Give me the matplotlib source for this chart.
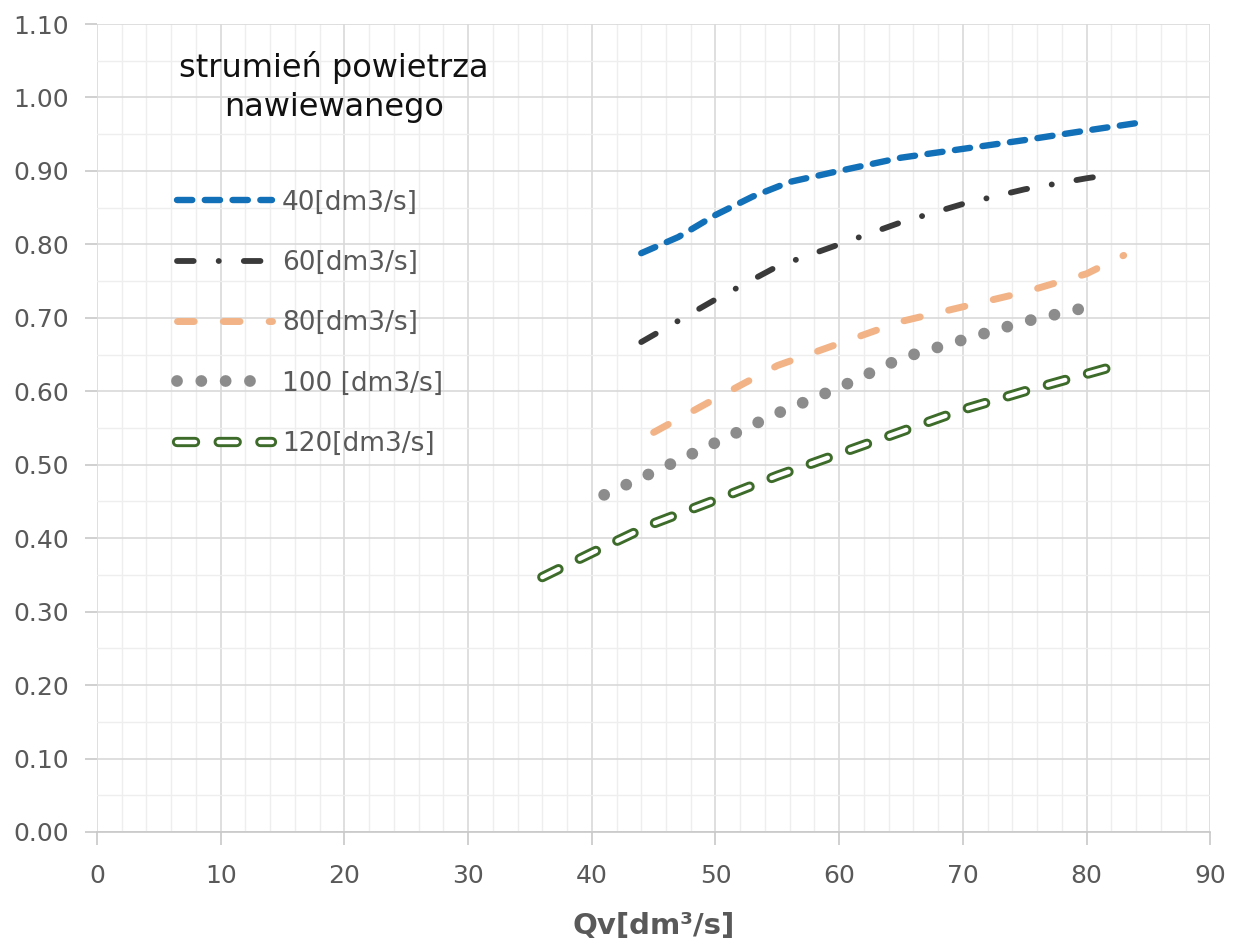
import matplotlib.pyplot as plt
from matplotlib.ticker import MultipleLocator, FormatStrFormatter

# values
x40 = [44, 47, 50, 53, 56, 60, 65, 70, 75, 80, 84]
y40 = [0.788, 0.81, 0.84, 0.865, 0.885, 0.90, 0.918, 0.93, 0.942, 0.955, 0.965]
x60 = [44, 50, 55, 60, 65, 70, 75, 80, 82]
y60 = [0.667, 0.725, 0.77, 0.80, 0.83, 0.855, 0.875, 0.89, 0.895]
x80 = [45, 50, 55, 60, 65, 70, 75, 80, 83]
y80 = [0.544, 0.59, 0.635, 0.665, 0.695, 0.715, 0.735, 0.76, 0.785]
x100 = [41, 45, 50, 55, 60, 65, 70, 75, 81]
y100 = [0.459, 0.49, 0.53, 0.57, 0.605, 0.645, 0.67, 0.695, 0.718]
x120 = [36, 40, 45, 50, 55, 60, 65, 70, 75, 82]
y120 = [0.347, 0.38, 0.42, 0.452, 0.485, 0.515, 0.545, 0.575, 0.60, 0.633]
labels = ['40[dm3/s]', '60[dm3/s]', '80[dm3/s]', '100 [dm3/s]', '120[dm3/s]']

plt.rcParams['font.family'] = ['DejaVu Sans']
plt.rcParams['lines.scale_dashes'] = False  # dashes given in points

fig = plt.figure(figsize=(12.35, 9.49), dpi=100, facecolor='white')
ax = fig.add_axes([0.0785, 0.1233, 0.9015, 0.8514])

l1, = ax.plot(x40, y40, color='#1170b8', lw=4.6, dashes=(11, 9),
              dash_capstyle='round', label=labels[0])
l2, = ax.plot(x60, y60, color='#3a3a3a', lw=4.2, dashes=(12, 18, 0.1, 18),
              dash_capstyle='round', label=labels[1])
l3, = ax.plot(x80, y80, color='#f2b387', lw=5.0, dashes=(12, 21),
              dash_capstyle='round', label=labels[2])
l4, = ax.plot(x100, y100, color='#8c8c8c', lw=8.5, dashes=(0.01, 17.5),
              dash_capstyle='round', label=labels[3])
# hollow dashes: dark green outline with white core on the same pattern
l5a, = ax.plot(x120, y120, color='#3d6b2a', lw=7.4, dashes=(13, 17),
               dash_capstyle='round')
l5b, = ax.plot(x120, y120, color='white', lw=3.2, dashes=(13, 17),
               dash_capstyle='round')

ax.set_xlim(0, 90)
ax.set_ylim(0, 1.10)
ax.xaxis.set_major_locator(MultipleLocator(10))
ax.xaxis.set_minor_locator(MultipleLocator(2))
ax.yaxis.set_major_locator(MultipleLocator(0.1))
ax.yaxis.set_minor_locator(MultipleLocator(0.05))
ax.yaxis.set_major_formatter(FormatStrFormatter('%.2f'))

ax.grid(which='major', color='#d9d9d9', lw=1.2)
ax.grid(which='minor', color='#eeeeee', lw=1.0)
ax.set_axisbelow(True)
for s in ['top', 'right', 'left']:
    ax.spines[s].set_visible(False)
ax.spines['bottom'].set_color('#c8c8c8')
ax.spines['bottom'].set_linewidth(1.2)

ax.tick_params(axis='both', which='major', labelsize=18, labelcolor='#595959',
               color='#c8c8c8', length=9, width=1.2)
ax.tick_params(axis='y', pad=11)
ax.tick_params(axis='x', pad=14)
ax.tick_params(axis='both', which='minor', length=0)

ax.set_xlabel('Qv[dm³/s]', fontsize=21, fontweight='bold', color='#595959')
ax.xaxis.set_label_coords(0.5, -0.099)

fig.text(334 / 1235, 1 - 87 / 949, 'strumień powietrza\nnawiewanego',
         fontsize=23, color='#111111', ha='center', va='center',
         multialignment='center', linespacing=1.3)

leg = ax.legend([l1, l2, l3, l4, (l5a, l5b)], labels, loc='upper left',
                bbox_to_anchor=(0.0715, 0.795), frameon=False, fontsize=19,
                borderpad=0, borderaxespad=0, handlelength=3.6,
                handletextpad=0.4, labelspacing=1.3)
for t in leg.get_texts():
    t.set_color('#595959')

plt.savefig('out.png', dpi=100, facecolor='white')
